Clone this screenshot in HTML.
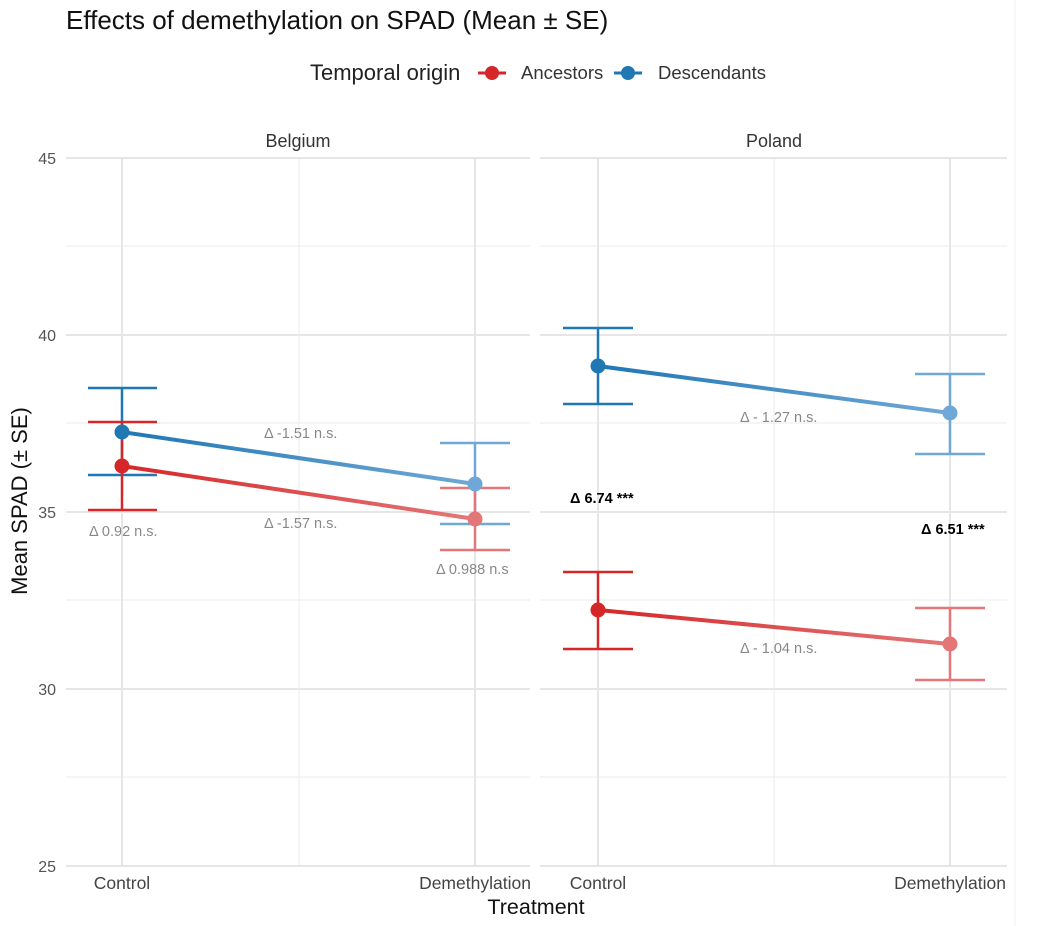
<!DOCTYPE html>
<html><head><meta charset="utf-8"><style>body{margin:0;background:#fff}svg{display:block}</style></head><body>
<svg width="1056" height="926" viewBox="0 0 1056 926" xmlns="http://www.w3.org/2000/svg" font-family="Liberation Sans, sans-serif">
<defs>
<linearGradient id="gb" x1="0" x2="1"><stop offset="0" stop-color="#1f77b4"/><stop offset="1" stop-color="#6fa8d6"/></linearGradient>
<linearGradient id="gr" x1="0" x2="1"><stop offset="0" stop-color="#d62728"/><stop offset="1" stop-color="#e37778"/></linearGradient>
</defs>
<rect width="1056" height="926" fill="#fff"/>
<line x1="1015" y1="0" x2="1015" y2="926" stroke="#f0f0f0"/>
<text x="66" y="29" font-size="26" fill="#111">Effects of demethylation on SPAD (Mean ± SE)</text>
<text x="310" y="80" font-size="22" fill="#222">Temporal origin</text>
<line x1="478" y1="73" x2="506" y2="73" stroke="#d62728" stroke-width="3"/><circle cx="492" cy="73" r="7" fill="#d62728"/>
<text x="521" y="79" font-size="18.5" fill="#333">Ancestors</text>
<line x1="614" y1="73" x2="642" y2="73" stroke="#1f77b4" stroke-width="3"/><circle cx="628" cy="73" r="7" fill="#1f77b4"/>
<text x="658" y="79" font-size="18.5" fill="#333">Descendants</text>
<text x="298" y="147" font-size="18" fill="#333" text-anchor="middle">Belgium</text>
<text x="774" y="147" font-size="18" fill="#333" text-anchor="middle">Poland</text>
<g stroke="#ebebeb" stroke-width="1">
<line x1="66" x2="530" y1="246" y2="246"/><line x1="66" x2="530" y1="423" y2="423"/><line x1="66" x2="530" y1="600" y2="600"/><line x1="66" x2="530" y1="777" y2="777"/>
<line x1="540" x2="1007" y1="246" y2="246"/><line x1="540" x2="1007" y1="423" y2="423"/><line x1="540" x2="1007" y1="600" y2="600"/><line x1="540" x2="1007" y1="777" y2="777"/>
<line x1="299" x2="299" y1="158" y2="866"/><line x1="774" x2="774" y1="158" y2="866"/>
</g>
<g stroke="#e6e6e6" stroke-width="2">
<line x1="66" x2="530" y1="158" y2="158"/><line x1="66" x2="530" y1="335" y2="335"/><line x1="66" x2="530" y1="512" y2="512"/><line x1="66" x2="530" y1="689" y2="689"/><line x1="66" x2="530" y1="866" y2="866"/>
<line x1="540" x2="1007" y1="158" y2="158"/><line x1="540" x2="1007" y1="335" y2="335"/><line x1="540" x2="1007" y1="512" y2="512"/><line x1="540" x2="1007" y1="689" y2="689"/><line x1="540" x2="1007" y1="866" y2="866"/>
<line x1="122" x2="122" y1="158" y2="866"/><line x1="475" x2="475" y1="158" y2="866"/>
<line x1="598" x2="598" y1="158" y2="866"/><line x1="950" x2="950" y1="158" y2="866"/>
</g>
<g font-size="16" fill="#555" text-anchor="end">
<text x="56" y="164">45</text><text x="56" y="341">40</text><text x="56" y="518">35</text><text x="56" y="695">30</text><text x="56" y="872">25</text>
</g>
<g font-size="17.5" fill="#444" text-anchor="middle">
<text x="122" y="889">Control</text><text x="475" y="889">Demethylation</text>
<text x="598" y="889">Control</text><text x="950" y="889">Demethylation</text>
</g>
<text x="536" y="914" font-size="21.5" fill="#111" text-anchor="middle">Treatment</text>
<text transform="translate(27 501) rotate(-90)" font-size="22" fill="#111" text-anchor="middle">Mean SPAD (± SE)</text>
<line x1="122" y1="432" x2="475" y2="484" stroke="url(#gb)" stroke-width="4"/>
<line x1="122" y1="466" x2="475" y2="519" stroke="url(#gr)" stroke-width="4"/>
<line x1="598" y1="366" x2="950" y2="413" stroke="url(#gb)" stroke-width="4"/>
<line x1="598" y1="610" x2="950" y2="644" stroke="url(#gr)" stroke-width="4"/>
<g stroke-width="2.5">
<g stroke="#1f77b4"><line x1="122" x2="122" y1="388" y2="475"/><line x1="88" x2="157" y1="388" y2="388"/><line x1="88" x2="157" y1="475" y2="475"/></g>
<g stroke="#d62728"><line x1="122" x2="122" y1="422" y2="510"/><line x1="88" x2="157" y1="422" y2="422"/><line x1="88" x2="157" y1="510" y2="510"/></g>
<g stroke="#6fa8d6"><line x1="475" x2="475" y1="443" y2="524"/><line x1="440" x2="510" y1="443" y2="443"/><line x1="440" x2="510" y1="524" y2="524"/></g>
<g stroke="#e37778"><line x1="475" x2="475" y1="488" y2="550"/><line x1="440" x2="510" y1="488" y2="488"/><line x1="440" x2="510" y1="550" y2="550"/></g>
<g stroke="#1f77b4"><line x1="598" x2="598" y1="328" y2="404"/><line x1="563" x2="633" y1="328" y2="328"/><line x1="563" x2="633" y1="404" y2="404"/></g>
<g stroke="#6fa8d6"><line x1="950" x2="950" y1="374" y2="454"/><line x1="915" x2="985" y1="374" y2="374"/><line x1="915" x2="985" y1="454" y2="454"/></g>
<g stroke="#d62728"><line x1="598" x2="598" y1="572" y2="649"/><line x1="563" x2="633" y1="572" y2="572"/><line x1="563" x2="633" y1="649" y2="649"/></g>
<g stroke="#e37778"><line x1="950" x2="950" y1="608" y2="680"/><line x1="915" x2="985" y1="608" y2="608"/><line x1="915" x2="985" y1="680" y2="680"/></g>
</g>
<circle cx="122" cy="432" r="7.5" fill="#1f77b4"/><circle cx="122" cy="466" r="7.5" fill="#d62728"/>
<circle cx="475" cy="484" r="7.5" fill="#6fa8d6"/><circle cx="475" cy="519" r="7.5" fill="#e37778"/>
<circle cx="598" cy="366" r="7.5" fill="#1f77b4"/><circle cx="598" cy="610" r="7.5" fill="#d62728"/>
<circle cx="950" cy="413" r="7.5" fill="#6fa8d6"/><circle cx="950" cy="644" r="7.5" fill="#e37778"/>
<g font-size="14.5" fill="#888">
<text x="264" y="438">Δ -1.51 n.s.</text>
<text x="264" y="528">Δ -1.57 n.s.</text>
<text x="89" y="536">Δ 0.92 n.s.</text>
<text x="436" y="574">Δ 0.988 n.s</text>
<text x="740" y="422">Δ - 1.27 n.s.</text>
<text x="740" y="653">Δ - 1.04 n.s.</text>
</g>
<g font-size="14.5" fill="#000" font-weight="bold">
<text x="570" y="503">Δ 6.74 ***</text>
<text x="921" y="534">Δ 6.51 ***</text>
</g>
</svg>
</body></html>
